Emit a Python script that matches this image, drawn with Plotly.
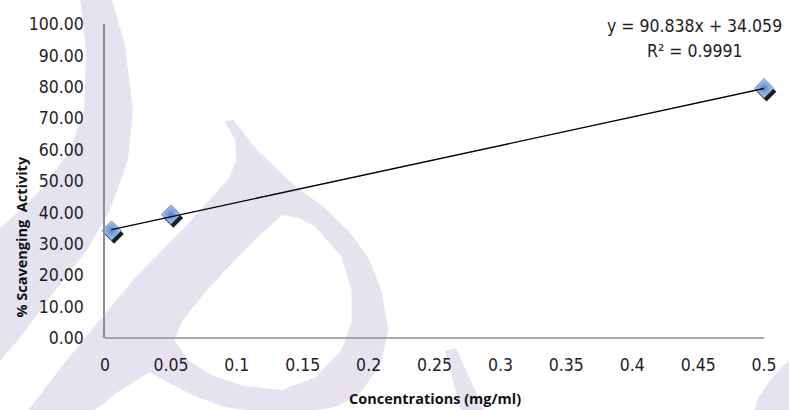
import plotly.graph_objects as go

# ---------------- data ----------------
concentrations = [0.005, 0.05, 0.5]
scavenging = [34.2, 39.3, 79.5]
trend_slope = 90.838
trend_intercept = 34.059
equation_text = "y = 90.838x + 34.059"
r2_text = "R² = 0.9991"
x_tick_vals = [0, 0.05, 0.1, 0.15, 0.2, 0.25, 0.3, 0.35, 0.4, 0.45, 0.5]
x_tick_text = ["0", "0.05", "0.1", "0.15", "0.2", "0.25", "0.3", "0.35", "0.4", "0.45", "0.5"]
y_tick_vals = [0, 10, 20, 30, 40, 50, 60, 70, 80, 90, 100]
y_tick_text = ["%.2f" % v for v in y_tick_vals]
x_title = "Concentrations (mg/ml)"
y_title = "% Scavenging&nbsp; Activity"

# ---------------- layout geometry (pixels) ----------------
W, H = 789, 410
L, T, B = 105, 24, 72
AXIS_END_PX = 768            # pixel where x = 0.5 sits (end of the drawn axis line)
X_MAX = 0.5
X_RANGE = [0, 0.506]         # a little head-room so the last marker's shadow is drawn
PX_PER_X = (AXIS_END_PX - L) / X_MAX
PW = X_RANGE[1] * PX_PER_X
R = W - L - PW
PH = H - T - B
Y_RANGE = [0, 100]


def px_to_paper(px, py):
    return (px - L) / PW, (H - B - py) / PH


def path_from_px(*rings):
    parts = []
    for ring in rings:
        pts = [px_to_paper(x, y) for x, y in ring]
        s = "M %.4f,%.4f " % pts[0] + " ".join("L %.4f,%.4f" % p for p in pts[1:]) + " Z"
        parts.append(s)
    return " ".join(parts)


WM = "#e6e2ef"
# watermark decoration (background only)
left_arc = [(75, -5), (80, 0), (86, 50), (84, 110), (70, 150), (45, 185), (20, 210), (-5, 232),
            (-5, 366), (20, 337), (50, 297), (87, 250), (110, 210), (128, 160), (133, 110),
            (125, 45), (112, 0), (111, -5)]
loop_outer = [(25, 414), (65, 362), (100, 320), (135, 278), (165, 248), (190, 222), (212, 198),
              (230, 178), (237, 160), (236, 140), (228, 126), (226, 121), (234, 120), (258, 150),
              (295, 185), (325, 207), (352, 233), (370, 258), (383, 290), (390, 330), (382, 365),
              (360, 395), (337, 407), (300, 413), (260, 412), (225, 407), (195, 396), (168, 382),
              (150, 372), (118, 392), (90, 414)]
loop_hole = [(283, 215), (258, 238), (232, 264), (205, 293), (182, 322), (175, 340), (188, 360),
             (212, 375), (245, 386), (283, 390), (317, 377), (343, 350), (353, 323), (353, 290),
             (343, 257), (317, 227), (300, 218)]
bottom_stroke = [(447, 351), (458, 348), (488, 414), (464, 414)]
corner_stroke = [(757, 414), (762, 398), (772, 383), (785, 368), (795, 358), (795, 414)]

shapes = []
for rings in [(left_arc,), (loop_outer, loop_hole[::-1]), (bottom_stroke,), (corner_stroke,)]:
    shapes.append(dict(type="path", xref="paper", yref="paper", path=path_from_px(*rings),
                       fillcolor=WM, line=dict(width=0), layer="below"))
# x axis line, ending at x = 0.5
shapes.append(dict(type="line", xref="x", yref="paper", x0=0, x1=X_MAX, y0=0, y1=0,
                   line=dict(color="#8f8f8f", width=1.5), layer="above"))

fig = go.Figure()

# trendline from the reported equation
trend_x = [concentrations[0], concentrations[-1]]
trend_y = [trend_slope * x + trend_intercept for x in trend_x]

# marker shadow: offset of a few pixels converted through the axis scale
dx = 2.5 / PX_PER_X
dy = 3.5 * (Y_RANGE[1] - Y_RANGE[0]) / PH
fig.add_trace(go.Scatter(
    x=[v + dx for v in concentrations], y=[v - dy for v in scavenging], mode="markers",
    marker=dict(symbol="diamond", size=15, color="#1c1c1c", line=dict(width=0)),
    hoverinfo="skip", showlegend=False, cliponaxis=False))
fig.add_trace(go.Scatter(
    x=concentrations, y=scavenging, mode="markers",
    marker=dict(symbol="diamond", size=15, color="#b3cff4",
                gradient=dict(type="radial", color="#5285cc"),
                line=dict(width=0.6, color="#3d6aab")),
    showlegend=False, cliponaxis=False))
fig.add_trace(go.Scatter(
    x=trend_x, y=trend_y, mode="lines", line=dict(color="#000000", width=1.4),
    hoverinfo="skip", showlegend=False, cliponaxis=False))

tick_font = dict(family="DejaVu Sans Condensed, Liberation Sans, sans-serif",
                 size=17.5, color="#1e1e1e")
title_font = dict(family="Open Sans, Liberation Sans, sans-serif", size=14.5, color="#111111")

annotations = [
    dict(text="<b>%s</b>" % x_title, xref="paper", yref="paper",
         x=px_to_paper(437, 0)[0], y=px_to_paper(0, 398)[1], showarrow=False,
         xanchor="center", yanchor="middle", font=title_font),
    dict(text="<b>%s</b>" % y_title, xref="paper", yref="paper", textangle=-90,
         x=px_to_paper(20, 0)[0], y=px_to_paper(0, 237)[1], showarrow=False,
         xanchor="center", yanchor="middle", font=title_font),
    dict(text=equation_text, xref="paper", yref="paper",
         x=px_to_paper(698, 0)[0], y=px_to_paper(0, 26)[1], showarrow=False,
         xanchor="center", yanchor="middle",
         font=dict(family=tick_font["family"], size=17.5, color="#1e1e1e")),
    dict(text=r2_text, xref="paper", yref="paper",
         x=px_to_paper(698, 0)[0], y=px_to_paper(0, 51)[1], showarrow=False,
         xanchor="center", yanchor="middle",
         font=dict(family=tick_font["family"], size=17.5, color="#1e1e1e")),
]

fig.update_layout(
    width=W, height=H, margin=dict(l=L, r=R, t=T, b=B, pad=0),
    paper_bgcolor="white", plot_bgcolor="rgba(0,0,0,0)",
    shapes=shapes, annotations=annotations, showlegend=False,
    xaxis=dict(range=X_RANGE, tickvals=x_tick_vals, ticktext=x_tick_text,
               showgrid=False, zeroline=False, showline=False,
               ticks="", ticklabelstandoff=14, tickfont=tick_font, fixedrange=True),
    yaxis=dict(range=Y_RANGE, tickvals=y_tick_vals, ticktext=y_tick_text,
               showgrid=False, zeroline=False, showline=True, linecolor="#8f8f8f", linewidth=1.5,
               ticks="", ticklabelstandoff=16, tickfont=tick_font, fixedrange=True),
)

fig.write_html("out.html")
